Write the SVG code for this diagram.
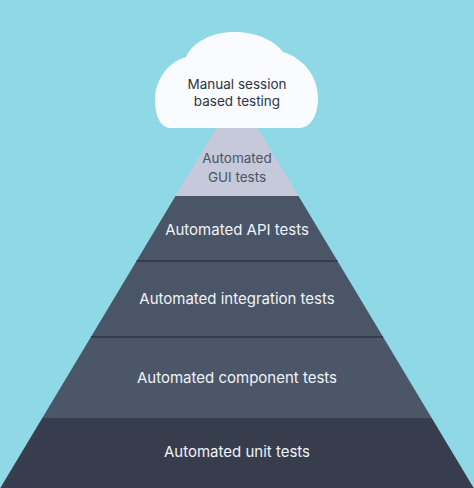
<svg xmlns="http://www.w3.org/2000/svg" width="474" height="488" viewBox="0 0 474 488">
<style>
.lbl{font-family:Inter,"Noto Sans",sans-serif;text-anchor:middle;}
.lt{font-size:15px;fill:#f1f3f7;}
.dk{font-size:13.5px;fill:#2d3444;}
.gui{font-size:13.5px;fill:#4a5468;}
</style>
<rect x="0" y="0" width="474" height="488" fill="#8fd8e6"/>
<g id="gui">
<polygon points="221.1,120 252.9,120 298.5,196 175.5,196" fill="#c5c9d9"/>
<text class="lbl gui" x="237" y="163">Automated</text>
<text class="lbl gui" x="237" y="182">GUI tests</text>
</g>
<g id="api">
<polygon points="175.5,196 298.5,196 337.5,261 136.5,261" fill="#4a5567"/>
<text class="lbl lt" x="237" y="235">Automated API tests</text>
</g>
<g id="integration">
<polygon points="136.5,261 337.5,261 383.1,337 90.9,337" fill="#4a5567"/>
<text class="lbl lt" x="237" y="304">Automated integration tests</text>
</g>
<g id="component">
<polygon points="90.9,337 383.1,337 431.7,418 42.3,418" fill="#4b5669"/>
<text class="lbl lt" x="237" y="383">Automated component tests</text>
</g>
<g id="unit">
<polygon points="42.3,418 431.7,418 474,488.5 0,488.5" fill="#373d4c"/>
<text class="lbl lt" x="237" y="457">Automated unit tests</text>
</g>
<g id="connectors">
<line x1="136.5" y1="261" x2="337.5" y2="261" stroke="#2f3543" stroke-width="1.5"/>
<line x1="90.9" y1="337" x2="383.1" y2="337" stroke="#2f3543" stroke-width="1.5"/>
</g>
<g id="cloud">
<path d="M170 128 C160 127 155 115 155 100 C155 80 168 62 186 57 C193 42 212 32 234 32 C256 32 274 40 283 52 C303 58 318 76 318 98 C318 114 312 127 300 128 Z" fill="#f9fbfe"/>
<text class="lbl dk" x="237" y="89">Manual session</text>
<text class="lbl dk" x="237" y="106">based testing</text>
</g>
</svg>
